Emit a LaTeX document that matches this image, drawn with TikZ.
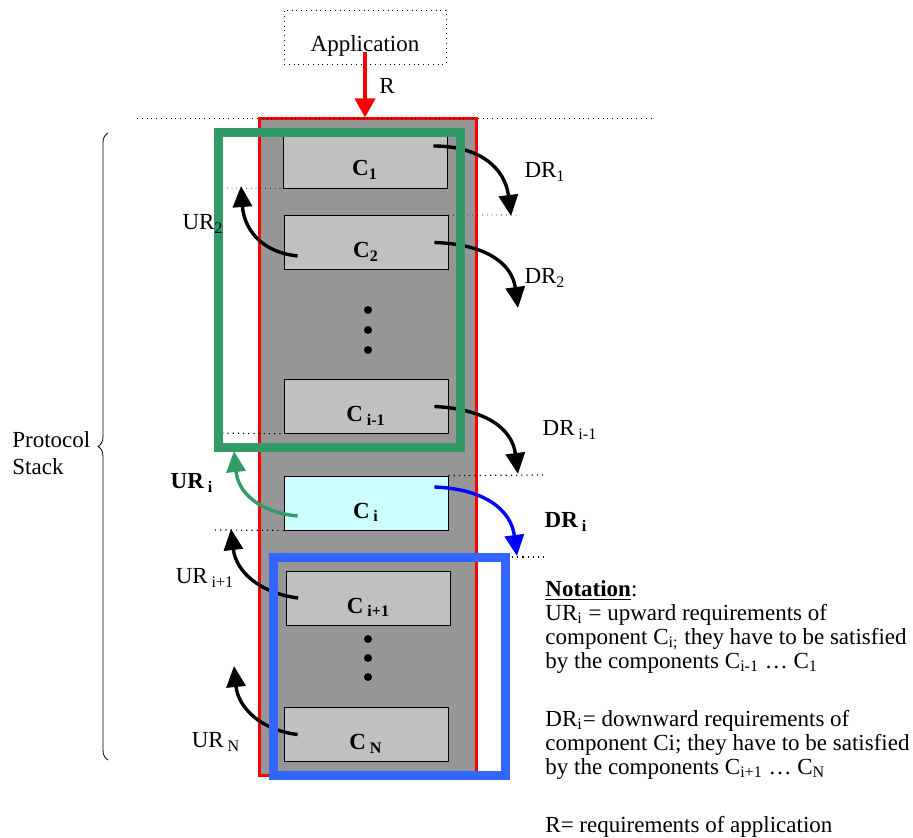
\documentclass[tikz,border=0pt]{standalone}
\usepackage{fontspec}
\setmainfont{Liberation Serif}
\usetikzlibrary{arrows.meta,decorations.pathreplacing}

\definecolor{stackgray}{HTML}{969696}
\definecolor{compgray}{HTML}{C0C0C0}
\definecolor{compcyan}{HTML}{CCFFFF}
\definecolor{upgreen}{HTML}{339966}
\definecolor{lowblue}{HTML}{3366FF}

\begin{document}
\begin{tikzpicture}[x=0.5pt, y=-0.5pt,
    font=\fontsize{11.5}{12}\selectfont,
    comp/.style={draw, fill=compgray, minimum width=82pt, minimum height=27pt, inner sep=0pt,
      text height=17pt, text depth=2pt, font=\fontsize{11.5}{12}\selectfont\bfseries},
    lbl/.style={inner sep=0pt},
    req/.style={-{Triangle[length=10.5pt,width=9.5pt]}, line width=1.7pt},
    guide/.style={dotted, line width=0.6pt},
    dotmark/.style={fill=black},
  ]
  \useasboundingbox (0,0) rectangle (913,838);

  % --- Application ---
  \node[draw, dotted, minimum width=81pt, minimum height=27pt, inner sep=0pt,
    text height=17pt, text depth=2pt] (app) at (365,37) {Application};

  % --- Stack ---
  \node[draw=red, line width=1.5pt, fill=stackgray, minimum width=108.5pt, minimum height=328pt,
    inner sep=0pt] (stack) at (367.5,447) {};
  \draw[dotted] (137,118) -- (655,118);

  % --- Components ---
  \node[comp] (c1) at (365,161) {C\textsubscript{1}};
  \node[comp] (c2) at (366,242.5) {C\textsubscript{2}};
  \node[comp] (cim) at (366,406.5) {C\,\textsubscript{i-1}};
  \node[comp, fill=compcyan] (ci) at (366,503) {C\,\textsubscript{i}};
  \node[comp] (cip) at (368.5,598) {C\,\textsubscript{i+1}};
  \node[comp] (cn) at (366,734.5) {C\,\textsubscript{N}};

  \foreach \y in {310,330,350,639,658,677}
    \fill[dotmark] (368,\y) circle[radius=2pt];

  % --- Guide lines ---
  \draw[dotted] (222,188) -- (c1.south west);
  \draw[dotted] (c2.north east) -- (520,215);
  \draw[guide] (217,433) -- (cim.south west);
  \draw[guide] (ci.north east) -- (543,475);
  \draw[guide] (215,530) -- (ci.south west);
  \draw[guide] (512,557) -- (545,557);

  % --- Requirement R ---
  \draw[-{Triangle[length=9.5pt,width=10pt]}, line width=2pt, red]
    ([yshift=-7.5pt]app.center) -- (app.center |- stack.north);
  \node[lbl] (r) at (387,86) {R};

  % --- Downward requirements ---
  \coordinate (dt1) at (511,216);
  \coordinate (dt2) at (518,308);
  \coordinate (dt3) at (518,474);
  \coordinate (dt4) at (517,556);
  \draw[req] ([xshift=-7pt,yshift=7.5pt]c1.east) .. controls (480,146) and (505,168) .. (dt1);
  \draw[req] ([xshift=-7pt]c2.east) .. controls (485,244) and (512,263) .. (dt2);
  \draw[req] ([xshift=-7pt]cim.east) .. controls (485,409) and (512,428) .. (dt3);
  \draw[req, blue] ([xshift=-7pt,yshift=8pt]ci.east) .. controls (485,489) and (511,510) .. (dt4);

  % --- Upward requirements ---
  \coordinate (ut2) at (241,186);
  \coordinate (uti) at (234,451);
  \coordinate (utp) at (231,529);
  \coordinate (utn) at (234,666);
  \draw[req] ([xshift=7pt,yshift=-6.75pt]c2.west) .. controls (260,252) and (244,228) .. (ut2);
  \draw[req, upgreen] ([xshift=7pt,yshift=-6.5pt]ci.west) .. controls (258,512) and (238,492) .. (uti);
  \draw[req] ([xshift=6pt]cip.west) .. controls (260,593) and (236,572) .. (utp);
  \draw[req] ([xshift=7pt]cn.west) .. controls (260,730) and (238,707) .. (utn);

  % --- Groups ---
  \draw[upgreen, line width=4.5pt] (218,133) rectangle (460,447);
  \draw[lowblue, line width=4.5pt] (273,557) rectangle (505,775);

  % --- Labels ---
  \node[lbl] (dr1) at (545,172) {DR\textsubscript{1}};
  \node[lbl] (dr2) at (545,278) {DR\textsubscript{2}};
  \node[lbl] (drim) at (570,430) {DR\,\textsubscript{i-1}};
  \node[lbl, font=\fontsize{11.5}{12}\selectfont\bfseries] (dri) at (566,522) {DR\,\textsubscript{i}};
  \node[lbl] (ur2) at (203,224) {UR\textsubscript{2}};
  \node[lbl, font=\fontsize{11.5}{12}\selectfont\bfseries] (uri) at (192,483) {UR\,\textsubscript{i}};
  \node[lbl] (urip) at (205,578) {UR\,\textsubscript{i+1}};
  \node[lbl] (urn) at (216,742) {UR\,\textsubscript{N}};

  % --- Protocol stack brace ---
  \draw[decorate, decoration={brace, amplitude=5pt}] (108,760) -- (108,133);
  \node[lbl, anchor=west, align=left] (ps) at (12,453) {Protocol\\[1.5pt]Stack};

  % --- Notation ---
  \node[lbl, anchor=north west, align=left] (note) at (545,580)
    {\underline{\textbf{Notation}}:\\
     UR\textsubscript{i} = upward requirements of\\
     component C\textsubscript{i;} they have to be satisfied\\
     by the components C\textsubscript{i-1} \dots\ C\textsubscript{1}\\[17pt]
     DR\textsubscript{i}= downward requirements of\\
     component Ci; they have to be satisfied\\
     by the components C\textsubscript{i+1} \dots\ C\textsubscript{N}\\[17pt]
     R= requirements of application};
\end{tikzpicture}
\end{document}
